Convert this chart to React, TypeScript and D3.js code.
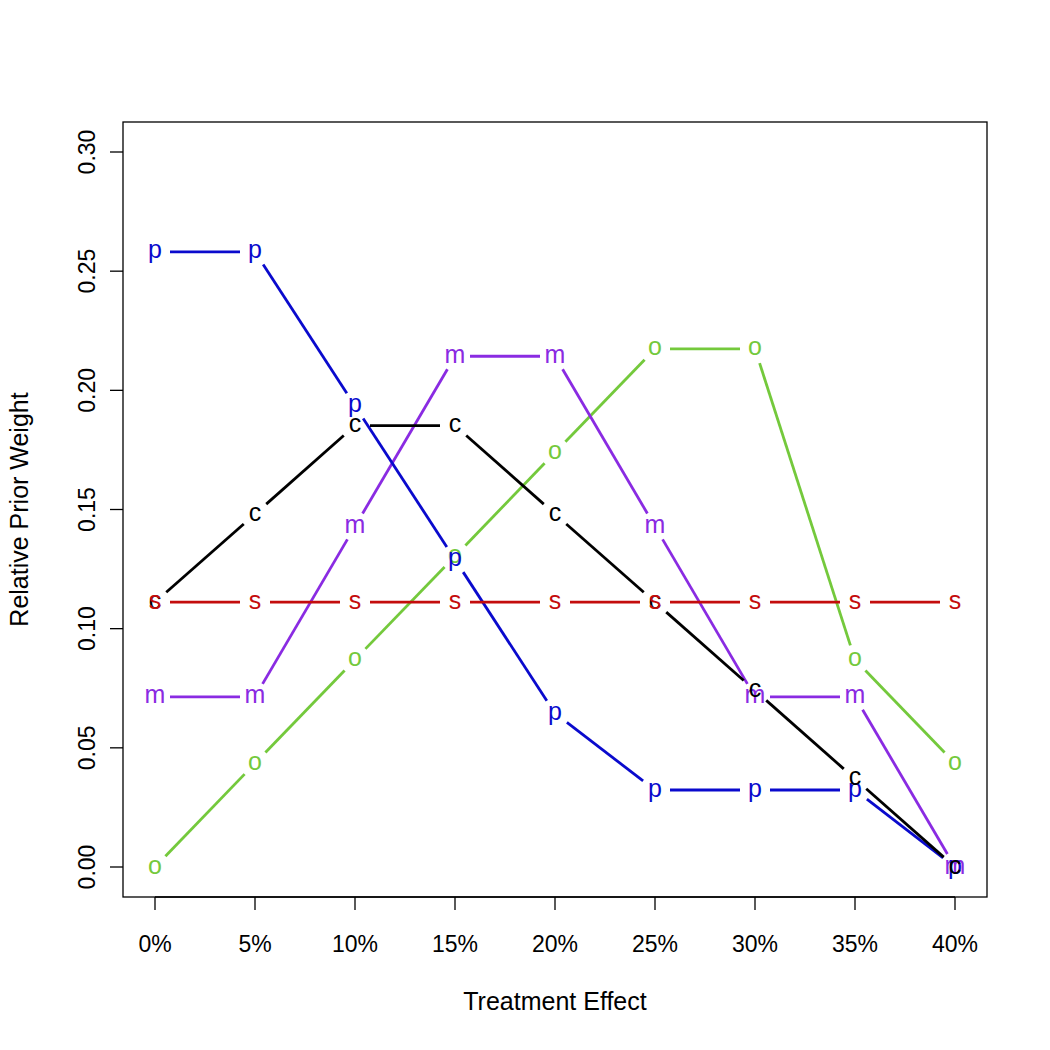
import React from "react";
import * as d3 from "d3";

const effects = [0, 5, 10, 15, 20, 25, 30, 35, 40];
const xTicks = [0, 5, 10, 15, 20, 25, 30, 35, 40];
const yTicks = [0, 0.05, 0.1, 0.15, 0.2, 0.25, 0.3];

const seriesO = [0, 0.0435, 0.087, 0.1304, 0.1739, 0.2174, 0.2174, 0.087, 0.0435];
const seriesM = [0.0714, 0.0714, 0.1429, 0.2143, 0.2143, 0.1429, 0.0714, 0.0714, 0];
const seriesP = [0.2581, 0.2581, 0.1935, 0.129, 0.0645, 0.0323, 0.0323, 0.0323, 0];
const seriesS = [0.1111, 0.1111, 0.1111, 0.1111, 0.1111, 0.1111, 0.1111, 0.1111, 0.1111];
const seriesC = [0.1111, 0.1481, 0.1852, 0.1852, 0.1481, 0.1111, 0.0741, 0.037, 0];

const series = [
  { key: "o", values: seriesO, color: "#74c93c" },
  { key: "m", values: seriesM, color: "#8a2be2" },
  { key: "p", values: seriesP, color: "#0a0acd" },
  { key: "c", values: seriesC, color: "#000000" },
  { key: "s", values: seriesS, color: "#c40c0c" },
];

export default function App() {
  const W = 1050, H = 1050;
  const left = 123, right = 987, top = 122, bottom = 897;
  const x = d3.scaleLinear().domain([0, 40]).range([155, 955]);
  const y = d3.scaleLinear().domain([0, 0.3]).range([867, 152]);
  const font = "'Liberation Sans', Arial, Helvetica, sans-serif";
  const gap = 15;
  const ptSize = 25;
  const tickSize = 23;
  const titleSize = 25;

  return (
    <svg width={W} height={H} style={{ position: "absolute", left: 0, top: 0, background: "#fff" }} fontFamily={font}>
      <rect x={0} y={0} width={W} height={H} fill="#fff" />
      <rect x={left} y={top} width={right - left} height={bottom - top} fill="none" stroke="#000" strokeWidth={1.3} />
      {/* x axis */}
      <line x1={x(0)} x2={x(40)} y1={bottom} y2={bottom} stroke="#000" strokeWidth={1.3} />
      {xTicks.map((t) => (
        <g key={"xt" + t}>
          <line x1={x(t)} x2={x(t)} y1={bottom} y2={bottom + 13} stroke="#000" strokeWidth={1.3} />
          <text x={x(t)} y={952} textAnchor="middle" fontSize={tickSize}>{t + "%"}</text>
        </g>
      ))}
      {/* y axis */}
      {yTicks.map((t) => (
        <g key={"yt" + t}>
          <line x1={left} x2={left - 13} y1={y(t)} y2={y(t)} stroke="#000" strokeWidth={1.3} />
          <text transform={`translate(95,${y(t)}) rotate(-90)`} textAnchor="middle" fontSize={tickSize}>{t.toFixed(2)}</text>
        </g>
      ))}
      <text x={(left + right) / 2} y={1010} textAnchor="middle" fontSize={titleSize}>Treatment Effect</text>
      <text transform={`translate(28,${(top + bottom) / 2}) rotate(-90)`} textAnchor="middle" fontSize={titleSize}>Relative Prior Weight</text>
      {series.map((s) => (
        <g key={s.key}>
          {s.values.slice(1).map((v, i) => {
            const x0 = x(effects[i]), y0 = y(s.values[i]);
            const x1 = x(effects[i + 1]), y1 = y(v);
            const dx = x1 - x0, dy = y1 - y0;
            const len = Math.sqrt(dx * dx + dy * dy);
            if (len <= 2 * gap) return null;
            const ux = dx / len, uy = dy / len;
            return (
              <line key={i} x1={x0 + ux * gap} y1={y0 + uy * gap} x2={x1 - ux * gap} y2={y1 - uy * gap}
                stroke={s.color} strokeWidth={2.8} />
            );
          })}
          {s.values.map((v, i) => (
            <text key={"pt" + i} x={x(effects[i])} y={y(v) + ptSize * 0.26} textAnchor="middle" fontSize={ptSize} fill={s.color}>{s.key}</text>
          ))}
        </g>
      ))}
    </svg>
  );
}
